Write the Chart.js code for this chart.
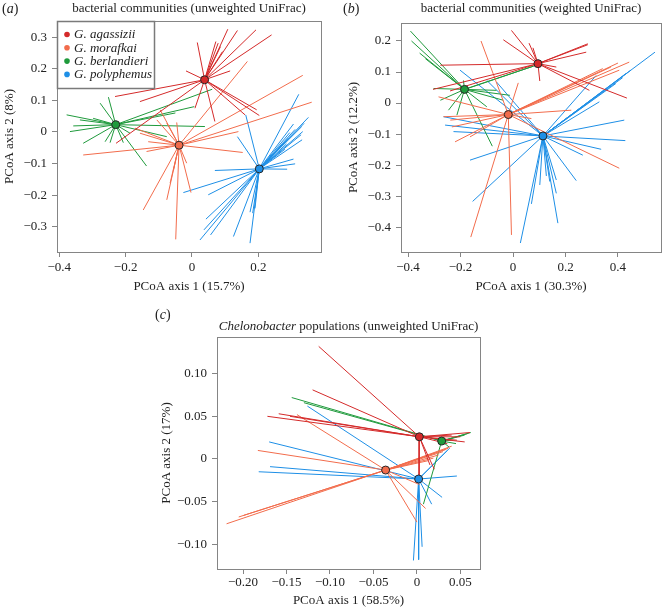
<!DOCTYPE html>
<html>
<head>
<meta charset="utf-8">
<script src="https://cdn.jsdelivr.net/npm/chart.js@4/dist/chart.umd.min.js"></script>
<style>
  html, body { margin: 0; padding: 0; background: #fff; }
  #wrap { position: relative; width: 666px; height: 612px; }
  canvas { position: absolute; }
</style>
</head>
<body>
<div id="wrap">
  <canvas id="pa" width="333" height="300" style="left:0;top:0;width:333px;height:300px"></canvas>
  <canvas id="pb" width="333" height="300" style="left:333px;top:0;width:333px;height:300px"></canvas>
  <canvas id="pc" width="340" height="312" style="left:150px;top:300px;width:340px;height:312px"></canvas>
</div>
<script>
// species, colours
const SPECIES = ["G. agassizii", "G. morafkai", "G. berlandieri", "G. polyphemus"];
const COLORS = ["#d42a2a", "#f26c4c", "#1f9a3c", "#1e8fe6"];

// (a) bacterial communities, unweighted UniFrac: centroids + sample end points
const A_CENTROIDS = [[0.038, 0.165], [-0.039, -0.042], [-0.230, 0.023], [0.203, -0.117]];
const A_AGASSIZII = [[0.108, 0.325], [0.137, 0.321], [0.193, 0.323], [0.240, 0.307], [0.016, 0.283],
  [0.072, 0.286], [0.079, 0.281], [0.086, 0.270], [0.092, 0.254], [-0.018, 0.193], [0.115, 0.193],
  [-0.232, 0.112], [-0.157, 0.096], [0.195, 0.070], [0.203, 0.052], [0.160, 0.054], [0.069, 0.033],
  [0.009, 0.075], [-0.229, -0.036]];
const A_MORAFKAI = [[0.167, 0.223], [0.334, 0.179], [0.361, 0.094], [0.140, 0.001], [0.153, -0.065],
  [-0.328, -0.073], [-0.132, -0.031], [-0.137, -0.062], [-0.157, -0.004], [-0.096, 0.070],
  [-0.106, 0.038], [-0.076, 0.028], [-0.046, 0.030], [-0.172, 0.012], [-0.147, -0.247],
  [-0.076, -0.215], [-0.049, -0.340], [-0.003, -0.192], [-0.066, -0.162], [-0.056, -0.122],
  [-0.016, -0.099]];
const A_BERLANDIERI = [[-0.378, 0.054], [-0.368, 0.001], [-0.328, -0.036], [-0.277, 0.091],
  [-0.252, 0.110], [-0.137, -0.108], [-0.076, -0.015], [-0.262, -0.031], [-0.247, -0.034],
  [-0.207, -0.034], [-0.358, 0.019], [-0.338, 0.038], [-0.298, 0.043], [-0.187, -0.004],
  [0.039, 0.017], [0.007, 0.080], [0.061, 0.135], [-0.050, 0.060]];
const A_POLYPHEMUS = [[0.322, 0.119], [0.351, 0.046], [0.338, 0.027], [0.331, 0.017], [0.334, 0.001],
  [0.329, -0.009], [0.332, -0.025], [0.306, 0.025], [0.311, 0.008], [0.295, -0.002], [0.290, -0.020],
  [0.285, -0.038], [0.280, -0.055], [0.306, -0.086], [0.311, -0.101], [0.287, -0.118], [0.162, 0.054],
  [0.137, -0.015], [0.069, -0.122], [-0.026, -0.192], [0.049, -0.199], [0.042, -0.276], [0.024, -0.342],
  [0.056, -0.326], [0.125, -0.331], [0.175, -0.352], [0.175, -0.254], [0.183, -0.257], [0.190, -0.242],
  [0.036, -0.310]];

// (b) bacterial communities, weighted UniFrac
const B_CENTROIDS = [[0.095, 0.127], [-0.018, -0.037], [-0.185, 0.044], [0.114, -0.106]];
const B_AGASSIZII = [[-0.006, 0.234], [-0.037, 0.204], [0.061, 0.193], [0.076, 0.178], [0.285, 0.191],
  [0.285, 0.188], [0.279, 0.164], [0.165, 0.116], [0.102, 0.071], [-0.277, 0.122], [-0.305, 0.044],
  [0.434, 0.016], [0.291, 0.041], [-0.240, 0.039]];
const B_MORAFKAI = [[-0.122, 0.200], [0.020, 0.065], [0.400, 0.129], [0.443, 0.132], [0.405, 0.106],
  [0.373, 0.116], [0.342, 0.111], [0.222, -0.023], [0.405, -0.210], [-0.006, -0.425], [-0.161, -0.432],
  [-0.221, -0.125], [-0.265, -0.044], [-0.233, -0.077], [-0.284, 0.020], [0.070, -0.050],
  [-0.164, -0.109], [-0.239, -0.055]];
const B_BERLANDIERI = [[-0.391, 0.232], [-0.387, 0.200], [-0.356, 0.161], [-0.334, 0.143],
  [-0.303, 0.047], [-0.277, 0.009], [-0.246, -0.023], [-0.214, -0.039], [-0.079, -0.139],
  [-0.012, 0.025], [-0.037, 0.009], [0.089, 0.122], [0.074, 0.118], [-0.063, 0.041], [-0.100, -0.012],
  [-0.189, 0.073]];
const B_POLYPHEMUS = [[0.541, 0.164], [0.449, 0.106], [0.430, 0.095], [0.418, 0.082], [0.392, 0.063],
  [0.317, 0.089], [0.329, 0.004], [0.424, -0.055], [0.428, -0.121], [0.336, -0.149], [0.266, -0.168],
  [0.241, -0.250], [0.165, -0.248], [0.165, -0.291], [0.171, -0.387], [0.102, -0.264], [0.070, -0.325],
  [0.028, -0.451], [-0.154, -0.317], [-0.164, -0.184], [-0.259, -0.071], [-0.265, -0.044],
  [-0.202, 0.106], [-0.100, 0.073], [-0.063, 0.068], [-0.227, -0.092], [0.127, -0.235], [0.140, -0.253]];

// (c) Chelonobacter populations, unweighted UniFrac
const C_CENTROIDS = [[0.0028, 0.026], [-0.036, -0.013], [0.0285, 0.021], [0.002, -0.0235]];
const C_AGASSIZII = [[-0.113, 0.132], [-0.120, 0.081], [-0.172, 0.050], [-0.159, 0.053], [-0.146, 0.050],
  [0.061, 0.031], [0.055, 0.020], [0.046, 0.022], [0.050, 0.026], [0.040, 0.028], [0.0025, -0.025],
  [0.015, -0.007], [0.020, -0.012], [0.035, 0.018]];
const C_MORAFKAI = [[-0.219, -0.076], [-0.205, -0.068], [-0.199, -0.066], [-0.183, 0.010], [-0.138, 0.052],
  [0.010, -0.058], [0.000, -0.074], [0.036, 0.0125], [0.030, 0.0086], [0.025, 0.0047], [0.019, 0.001],
  [0.013, -0.002], [0.040, 0.015], [0.033, 0.011], [0.003, -0.030]];
const C_BERLANDIERI = [[-0.144, 0.072], [-0.130, 0.066], [0.062, 0.031], [0.059, 0.030], [0.055, 0.028],
  [0.037, 0.014], [0.0075, -0.053], [0.040, 0.022], [0.045, 0.018]];
const C_POLYPHEMUS = [[-0.126, 0.062], [-0.170, 0.020], [-0.169, -0.009], [-0.182, -0.015], [0.046, -0.020],
  [0.029, -0.045], [0.017, -0.053], [-0.004, -0.119], [0.002, -0.118], [0.006, -0.103], [0.038, 0.013],
  [0.035, 0.010]];

// ticks
const A_XTICKS = [-0.4, -0.2, 0, 0.2];
const A_YTICKS = [-0.3, -0.2, -0.1, 0, 0.1, 0.2, 0.3];
const B_XTICKS = [-0.4, -0.2, 0, 0.2, 0.4];
const B_YTICKS = [-0.4, -0.3, -0.2, -0.1, 0, 0.1, 0.2];
const C_XTICKS = [-0.2, -0.15, -0.1, -0.05, 0, 0.05];
const C_YTICKS = [-0.1, -0.05, 0, 0.05, 0.1];

const SERIF = '"Liberation Serif", "DejaVu Serif", serif';
const INK = "#222";
const FRAME = "#858585";

function fmt(v, dec) {
  if (Math.abs(v) < 1e-9) return "0";
  return (v < 0 ? "\u2212" : "") + Math.abs(v).toFixed(dec);
}

function spider(c, ends, color) {
  const pts = [];
  ends.forEach(e => {
    pts.push({ x: c[0], y: c[1] }, { x: e[0], y: e[1] }, { x: c[0], y: null });
  });
  return { type: "line", data: pts, borderColor: color, borderWidth: 1, pointRadius: 0,
    pointHoverRadius: 0, fill: false, spanGaps: false, tension: 0, order: 2 };
}

function axis(ticksArr, min, max, dec, title, size, tickPad, titlePad) {
  return {
    type: "linear", min, max,
    afterBuildTicks: s => { s.ticks = ticksArr.map(v => ({ value: v })); },
    afterFit: s => { if (s.isHorizontal()) s.height = size; else s.width = size; },
    grid: { display: true, drawOnChartArea: false, drawTicks: true, tickLength: 5, color: FRAME },
    border: { display: false },
    ticks: { font: { family: SERIF, size: 13 }, color: INK, padding: tickPad, maxRotation: 0,
      autoSkip: false, callback: v => fmt(v, dec) },
    title: { display: true, text: title, font: { family: SERIF, size: 13 }, color: INK, padding: titlePad }
  };
}

function drawRuns(ctx, runs, x, y, align) {
  const fonts = runs.map(r => (r.i ? "italic " : "") + r.s + "px " + SERIF);
  let total = 0;
  runs.forEach((r, k) => { ctx.font = fonts[k]; total += ctx.measureText(r.t).width; });
  let cx = align === "center" ? x - total / 2 : x;
  runs.forEach((r, k) => {
    ctx.font = fonts[k];
    ctx.fillText(r.t, cx, y);
    cx += ctx.measureText(r.t).width;
  });
}

// frame, panel tag, title and the boxed legend of panel (a)
const decor = {
  id: "decor",
  afterDraw(chart, args, o) {
    const { ctx, chartArea: a } = chart;
    ctx.save();
    ctx.strokeStyle = FRAME;
    ctx.lineWidth = 1;
    ctx.strokeRect(Math.round(a.left) + 0.5, Math.round(a.top) + 0.5,
      Math.round(a.right - a.left), Math.round(a.bottom - a.top));
    ctx.fillStyle = INK;
    ctx.textAlign = "left";
    ctx.textBaseline = "middle";
    drawRuns(ctx, [{ t: "(", s: 14 }, { t: o.tag, s: 14, i: true }, { t: ")", s: 14 }], o.tagX, o.tagY, "left");
    drawRuns(ctx, o.title, (a.left + a.right) / 2, o.titleY, "center");
    if (o.legend) {
      const x0 = Math.round(a.left) + 0.5, y0 = Math.round(a.top) + 0.5;
      ctx.fillStyle = "#fff";
      ctx.fillRect(x0, y0, 97, 67);
      ctx.strokeStyle = "#7a7a7a";
      ctx.lineWidth = 1.5;
      ctx.strokeRect(x0, y0, 97, 67);
      SPECIES.forEach((name, k) => {
        const yy = a.top + 13.5 + k * 13.3;
        ctx.fillStyle = COLORS[k];
        ctx.beginPath();
        ctx.arc(a.left + 10, yy, 2.8, 0, Math.PI * 2);
        ctx.fill();
        ctx.fillStyle = INK;
        ctx.font = "italic 13px " + SERIF;
        ctx.fillText(name, a.left + 17, yy + 0.5);
      });
    }
    ctx.restore();
  }
};

function panel(id, cfg) {
  const datasets = [{
    type: "line", data: cfg.centroids.map(c => ({ x: c[0], y: c[1] })), showLine: false,
    pointRadius: 4, pointHoverRadius: 4, pointBackgroundColor: COLORS, pointBorderColor: "#262626",
    pointBorderWidth: 1, order: 0
  }];
  cfg.groups.forEach((ends, k) => datasets.push(spider(cfg.centroids[k], ends, COLORS[k])));
  return new Chart(document.getElementById(id), {
    type: "line",
    data: { datasets },
    options: {
      responsive: false, animation: false, devicePixelRatio: 1,
      layout: { padding: cfg.padding },
      events: [],
      plugins: { legend: { display: false }, tooltip: { enabled: false }, decor: cfg.decor },
      scales: { x: cfg.x, y: cfg.y }
    },
    plugins: [decor]
  });
}

const TITLE_BACT_U = [{ t: "bacterial communities (unweighted UniFrac)", s: 13 }];
const TITLE_BACT_W = [{ t: "bacterial communities (weighted UniFrac)", s: 13 }];
const TITLE_CHELO = [{ t: "Chelonobacter", s: 13, i: true }, { t: " populations (unweighted UniFrac)", s: 13 }];

panel("pa", {
  centroids: A_CENTROIDS,
  groups: [A_AGASSIZII, A_MORAFKAI, A_BERLANDIERI, A_POLYPHEMUS],
  padding: { left: 0, top: 21, right: 12, bottom: 0 },
  x: axis(A_XTICKS, -0.407, 0.389, 1, "PCoA axis 1 (15.7%)", 48, 3, { top: 0, bottom: 6 }),
  y: axis(A_YTICKS, -0.38, 0.351, 1, "PCoA axis 2 (8%)", 57, 5, { top: 2, bottom: 0 }),
  decor: { tag: "a", tagX: 2, tagY: 9, title: TITLE_BACT_U, titleY: 9, legend: true }
});

panel("pb", {
  centroids: B_CENTROIDS,
  groups: [B_AGASSIZII, B_MORAFKAI, B_BERLANDIERI, B_POLYPHEMUS],
  padding: { left: 11, top: 23, right: 4, bottom: 0 },
  x: axis(B_XTICKS, -0.427, 0.564, 1, "PCoA axis 1 (30.3%)", 48, 3, { top: 0, bottom: 6 }),
  y: axis(B_YTICKS, -0.48, 0.258, 1, "PCoA axis 2 (12.2%)", 57, 5, { top: 2, bottom: 0 }),
  decor: { tag: "b", tagX: 10, tagY: 9, title: TITLE_BACT_W, titleY: 9, legend: false }
});

panel("pc", {
  centroids: C_CENTROIDS,
  groups: [C_AGASSIZII, C_MORAFKAI, C_BERLANDIERI, C_POLYPHEMUS],
  padding: { left: 7, top: 37, right: 10, bottom: 0 },
  x: axis(C_XTICKS, -0.23, 0.0726, 2, "PCoA axis 1 (58.5%)", 43, 1, { top: 0, bottom: 4 }),
  y: axis(C_YTICKS, -0.129, 0.143, 2, "PCoA axis 2 (17%)", 60, 5, { top: 2, bottom: 0 }),
  decor: { tag: "c", tagX: 5, tagY: 15, title: TITLE_CHELO, titleY: 27, legend: false }
});
</script>
</body>
</html>
